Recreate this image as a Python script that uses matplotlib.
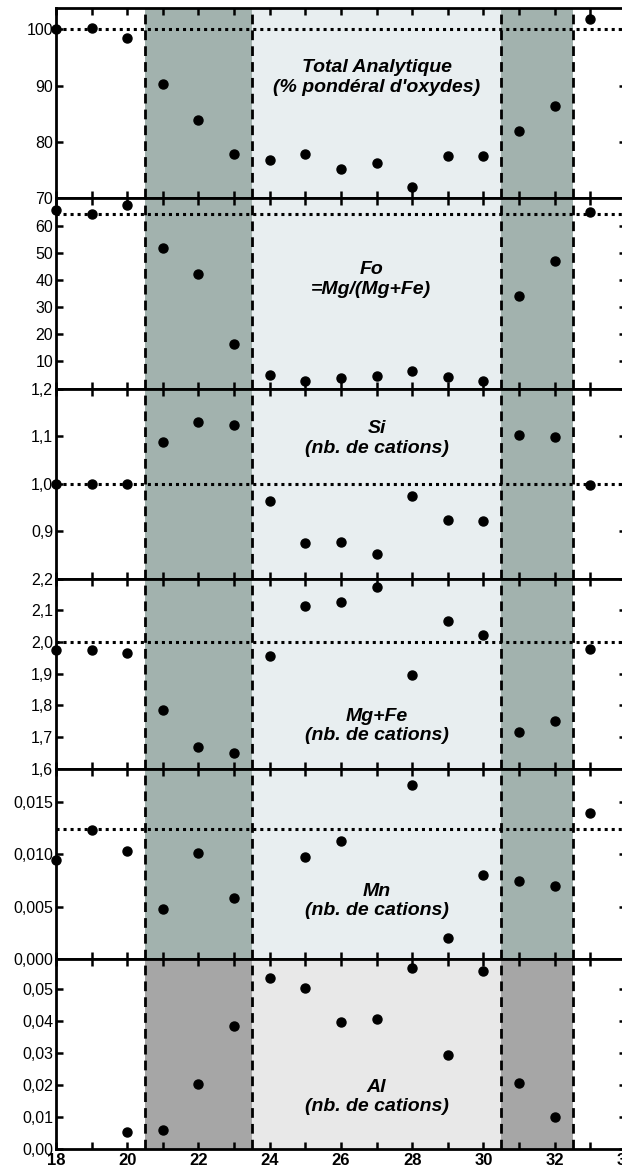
import matplotlib.pyplot as plt
from matplotlib.ticker import MultipleLocator

plt.rcParams['font.family'] = ['Liberation Sans', 'DejaVu Sans']

# donnees
x = list(range(18, 34))
total = [100.0, 100.2, 98.4, 90.2, 83.9, 77.9, 76.8, 77.8, 75.3, 76.3, 72.1, 77.6, 77.5, 81.9, 86.4, 101.8]
fo = [65.8, 64.3, 67.4, 51.7, 42.2, 16.5, 5.1, 2.9, 3.9, 4.6, 6.6, 4.2, 2.6, 33.9, 46.9, 64.9]
si = [1.0, 0.999, 0.999, 1.088, 1.129, 1.124, 0.963, 0.874, 0.877, 0.852, 0.974, 0.924, 0.922, 1.103, 1.098, 0.996]
mgfe = [1.974, 1.974, 1.965, 1.787, 1.668, 1.651, 1.956, 2.115, 2.126, 2.173, 1.897, 2.066, 2.023, 1.717, 1.750, 1.978]
x_mn = [18, 19, 20, 21, 22, 23, 25, 26, 28, 29, 30, 31, 32, 33]
mn = [0.0095, 0.01236, 0.0103, 0.00476, 0.01016, 0.0058, 0.00975, 0.01126, 0.01667, 0.00203, 0.00804, 0.00743, 0.00702, 0.01397]
x_al = list(range(20, 33))
al = [0.0053, 0.0058, 0.0204, 0.0384, 0.0534, 0.0503, 0.0399, 0.0408, 0.0567, 0.0294, 0.0557, 0.0208, 0.0099]

# lignes de reference (pointillés)
ref = [100, 64.3, 1.0, 2.0, 0.0124, None]

# graduations y
yticks = [[70, 80, 90, 100], [10, 20, 30, 40, 50, 60], [0.9, 1.0, 1.1, 1.2],
          [1.6, 1.7, 1.8, 1.9, 2.0, 2.1, 2.2], [0, 0.005, 0.010, 0.015],
          [0, 0.01, 0.02, 0.03, 0.04, 0.05]]
ylabels = [["70", "80", "90", "100"], ["10", "20", "30", "40", "50", "60"],
           ["0,9", "1,0", "1,1", "1,2"], ["1,6", "1,7", "1,8", "1,9", "2,0", "2,1", "2,2"],
           ["0,000", "0,005", "0,010", "0,015"], ["0,00", "0,01", "0,02", "0,03", "0,04", "0,05"]]
ylims = [(70, 103.7), (0, 70), (0.8, 1.2), (1.6, 2.2), (0, 0.0182), (0, 0.0595)]

titres = ["Total Analytique\n(% pondéral d'oxydes)", "Fo\n=Mg/(Mg+Fe)", "Si\n(nb. de cations)",
          "Mg+Fe\n(nb. de cations)", "Mn\n(nb. de cations)", "Al\n(nb. de cations)"]
pos_titre = [(27.0, 0.635), (26.85, 0.575), (27.0, 0.737), (27.0, 0.226), (27.0, 0.305), (27.0, 0.274)]

xs = [x, x, x, x, x_mn, x_al]
ys = [total, fo, si, mgfe, mn, al]

fig, axes = plt.subplots(6, 1, figsize=(6.22, 11.69), dpi=100, sharex=True)
fig.subplots_adjust(left=0.09, right=1.0064, top=1 - 8.3 / 1169, bottom=1 - 1149 / 1169, hspace=0)

for i, ax in enumerate(axes):
    if i < 5:
        sombre, clair = '#a2b2ae', '#e8eef0'
    else:
        sombre, clair = '#a6a6a6', '#e8e8e8'
    ax.axvspan(20.5, 23.5, color=sombre, lw=0, zorder=0)
    ax.axvspan(23.5, 30.5, color=clair, lw=0, zorder=0)
    ax.axvspan(30.5, 32.5, color=sombre, lw=0, zorder=0)
    for xv in [20.5, 23.5, 30.5, 32.5]:
        ax.axvline(xv, color='black', lw=2, ls=(0, (3.5, 2.2)), zorder=2)
    if ref[i] is not None:
        ax.axhline(ref[i], color='black', lw=2.2, ls=(0, (1, 1.3)), zorder=2)
    ax.plot(xs[i], ys[i], 'o', color='black', ms=6.5, clip_on=False, zorder=5)

    ax.set_xlim(18, 34)
    ax.set_ylim(*ylims[i])
    ax.set_yticks(yticks[i])
    ax.set_yticklabels(ylabels[i])
    ax.xaxis.set_major_locator(MultipleLocator(2))
    ax.xaxis.set_minor_locator(MultipleLocator(1))
    ax.tick_params(which='both', direction='in', top=True, right=True, length=5, width=1.8,
                   labelsize=11.5, pad=2)
    for s in ax.spines.values():
        s.set_linewidth(2)

    ax.text(pos_titre[i][0], pos_titre[i][1], titres[i], transform=ax.get_xaxis_transform(),
            ha='center', va='center', fontsize=14, fontweight='bold', style='italic')

axes[-1].tick_params(axis='x', labelsize=12, pad=3)
for lab in axes[-1].get_xticklabels():
    lab.set_fontweight('bold')

fig.savefig('out.png', dpi=100)
